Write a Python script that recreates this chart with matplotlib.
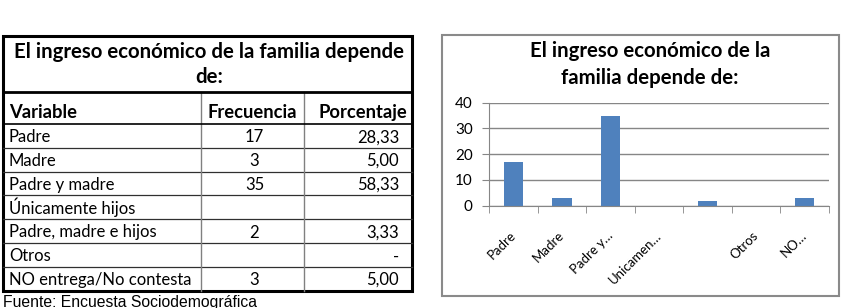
import matplotlib.pyplot as plt
from matplotlib.patches import Rectangle
from matplotlib.ticker import FixedLocator

titulo = "El ingreso económico de la familia depende\nde:"
titulo_graf = "El ingreso económico de la\nfamilia depende de:"
encabezado = ["Variable", "Frecuencia", "Porcentaje"]
variables = ["Padre", "Madre", "Padre y madre", "Únicamente hijos",
             "Padre, madre e hijos", "Otros", "NO entrega/No contesta"]
frecuencia = ["17", "3", "35", "", "2", "", "3"]
porcentaje = ["28,33", "5,00", "58,33", "", "3,33", "-", "5,00"]
etiquetas = ["Padre", "Madre", "Padre y…", "Unicamen…", "", "Otros", "NO…"]
valores = [17, 3, 35, 0, 2, 0, 3]
fuente = "Fuente: Encuesta Sociodemográfica"

W, H = 851, 308
fig = plt.figure(figsize=(W / 100, H / 100), dpi=100)
fig.patch.set_facecolor('white')
FAM = ['Lato', 'DejaVu Sans']

# ---- table, drawn in pixel coords ----
tb = fig.add_axes([0, 0, 1, 1])
tb.set_xlim(0, W)
tb.set_ylim(H, 0)
tb.axis('off')

x0, x1, c1, c2 = 2.5, 412, 201, 304
y_top, y_tit, y_hdr = 35.5, 91.5, 124
row_h = 23.8
y_bot = y_hdr + row_h * len(variables)

for i in range(1, len(variables)):
    y = y_hdr + i * row_h
    tb.plot([x0, x1], [y, y], color='#303030', lw=0.9)
tb.plot([c1, c1], [y_tit, y_bot], color='#808080', lw=1.0)
tb.plot([c2, c2], [y_tit, y_bot], color='#808080', lw=1.0)
tb.plot([x0, x1], [y_hdr, y_hdr], color='black', lw=1.2)
tb.plot([x0, x1], [y_tit, y_tit], color='black', lw=2.0)
tb.add_patch(Rectangle((x0, y_top), x1 - x0, y_bot - y_top, fill=False,
                       edgecolor='black', lw=2.2))

l1, l2 = titulo.split("\n")
tb.text((x0 + x1) / 2 + 1.5, 58, l1, ha='center', va='baseline', fontsize=14.7,
        fontweight='bold', family=FAM)
tb.text((x0 + x1) / 2 + 1.5, 83, l2, ha='center', va='baseline', fontsize=14.7,
        fontweight='bold', family=FAM)
tb.text(9, 118, encabezado[0], ha='left', va='baseline', fontsize=13.2,
        fontweight='bold', family=FAM)
tb.text((c1 + c2) / 2, 118, encabezado[1], ha='center', va='baseline',
        fontsize=13.2, fontweight='bold', family=FAM)
tb.text(x1 - 5, 118, encabezado[2], ha='right', va='baseline', fontsize=13.2,
        fontweight='bold', family=FAM)
for i, (v, f, p) in enumerate(zip(variables, frecuencia, porcentaje)):
    yb = y_hdr + (i + 1) * row_h - 5.5
    tb.text(9, yb, v, ha='left', va='baseline', fontsize=12, family=FAM)
    tb.text((c1 + c2) / 2 + 2, yb, f, ha='center', va='baseline', fontsize=12, family=FAM)
    tb.text(x1 - 13, yb, p, ha='right', va='baseline', fontsize=12, family=FAM)

tb.text(3, 306.5, fuente, ha='left', va='baseline', fontsize=11.3,
        family=['Liberation Sans', 'DejaVu Sans'])

# ---- chart box ----
tb.add_patch(Rectangle((442, 34.5), 397, 261, fill=False, edgecolor='#8a8a8a', lw=1.5))
g1, g2 = titulo_graf.split("\n")
tb.text(650, 57, g1, ha='center', va='baseline', fontsize=14.7,
        fontweight='bold', family=FAM)
tb.text(650, 84.5, g2, ha='center', va='baseline', fontsize=14.7,
        fontweight='bold', family=FAM)

# ---- bar chart ----
ax = fig.add_axes([489.3 / W, (H - 205.7) / H, 339.7 / W, 103 / H])
pos = list(range(len(valores)))
ax.bar(pos, valores, width=0.4, color='#4F81BD')
ax.set_xlim(-0.5, len(valores) - 0.5)
ax.set_ylim(0, 40)
ax.set_yticks([0, 10, 20, 30, 40])
ax.yaxis.grid(True, color='#868686', lw=1.0)
ax.set_axisbelow(True)
for s in ['top', 'right']:
    ax.spines[s].set_visible(False)
ax.spines['left'].set_color('#868686')
ax.spines['bottom'].set_color('#868686')
ax.tick_params(axis='y', length=5, color='#868686', pad=7, labelsize=11)
for t in ax.get_yticklabels():
    t.set_family(FAM)
ax.set_xticks(pos)
ax.set_xticklabels(etiquetas, rotation=45, ha='right', va='center',
                   rotation_mode='anchor', fontsize=9.5, family=FAM)
ax.tick_params(axis='x', which='major', length=0, pad=20)
ax.xaxis.set_minor_locator(FixedLocator([p + 0.5 for p in range(-1, len(valores))]))
ax.tick_params(axis='x', which='minor', length=5, color='#868686')

fig.savefig('out.png', dpi=100)
